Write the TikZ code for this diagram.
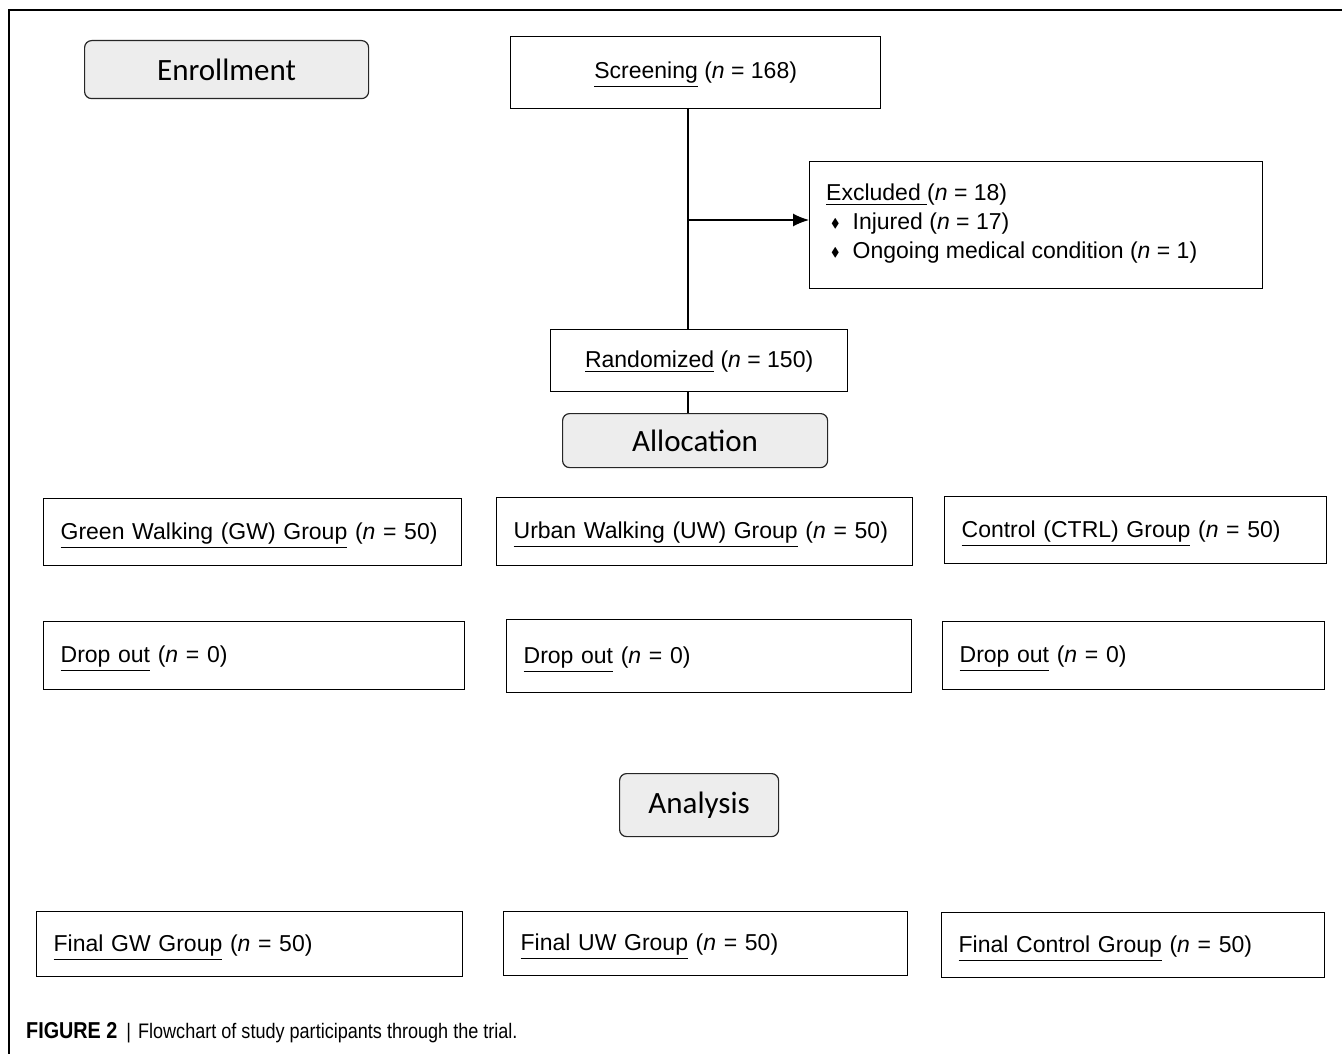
\documentclass[tikz,border=0pt]{standalone}
\usepackage{amssymb}
\usepackage{fontspec}
\setmainfont{Liberation Sans}
\newfontfamily\labelfont{Carlito}
\newfontfamily\capfont[FakeStretch=0.86]{Liberation Sans}
\usetikzlibrary{arrows.meta}
\newcommand{\nn}{\textit{n}}
\newcommand{\bul}{\hspace{5pt}\raisebox{2pt}{\scalebox{0.55}{$\blacklozenge$}}\hspace{13pt}}
\begin{document}
\begin{tikzpicture}[x=1pt,y=-1pt,
  box/.style={draw=black, line width=1.3pt, fill=white, inner sep=0pt, font=\fontsize{23}{27}\selectfont, text height=17pt, text depth=3pt},
  rowbox/.style={box, anchor=north west, align=left, inner xsep=17pt},
  stage/.style={draw=black!85, line width=1.2pt, rounded corners=7pt, fill=black!7, inner sep=0pt, anchor=north west, font=\labelfont\fontsize{31}{34}\selectfont},
  conn/.style={line width=1.3pt},
  arr/.style={conn, -{Latex[length=16pt,width=13pt]}}]
\useasboundingbox (0,0) rectangle (1342,1054);
\fill[white] (0,0) rectangle (1342,1054);
% frame
\draw[line width=1.2pt] (9,1054) -- (9,10) -- (1342,10);
% stage labels
\node[stage, minimum width=284, minimum height=58] (enr) at (84,40) {Enrollment};
\node[stage, minimum width=265, minimum height=54] (alloc) at (562,413) {Allocation};
\node[stage, minimum width=159, minimum height=63] (ana) at (619,773) {Analysis};
% top boxes
\node[box, anchor=north west, minimum width=370, minimum height=72, text depth=6pt] (scr) at (510,36) {\underline{Screening} (\nn{} = 168)};
\node[box, anchor=north west, minimum width=297, minimum height=62] (rnd) at (550,329) {\underline{Randomized} (\nn{} = 150)};
\node[draw=black, line width=1.3pt, fill=white, inner sep=0pt, anchor=north west, minimum width=453, minimum height=127] (exc) at (809,161) {};
\node[anchor=north west, inner sep=0pt, align=left, font=\fontsize{23}{29}\selectfont] (exctext) at (826,184)
  {\underline{Excluded\ }(\nn{} = 18)\\
   \bul Injured (\nn{} = 17)\\
   \bul Ongoing medical condition (\nn{} = 1)};
% groups
\node[rowbox, text width=384, minimum height=67] (gw) at (43,498) {\underline{Green Walking (GW) Group} (\nn{} = 50)};
\node[rowbox, text width=382, minimum height=68] (uw) at (496,497) {\underline{Urban Walking (UW) Group} (\nn{} = 50)};
\node[rowbox, text width=348, minimum height=67] (ctrl) at (944,496) {\underline{Control (CTRL) Group} (\nn{} = 50)};
% drop outs
\node[rowbox, text width=387, minimum height=68] (d1) at (43,621) {\underline{Drop out} (\nn{} = 0)};
\node[rowbox, text width=371, minimum height=73] (d2) at (506,619) {\underline{Drop out} (\nn{} = 0)};
\node[rowbox, text width=348, minimum height=68] (d3) at (942,621) {\underline{Drop out} (\nn{} = 0)};
% finals
\node[rowbox, text width=392, minimum height=65] (f1) at (36,911) {\underline{Final GW Group} (\nn{} = 50)};
\node[rowbox, text width=370, minimum height=64] (f2) at (503,911) {\underline{Final UW Group} (\nn{} = 50)};
\node[rowbox, text width=349, minimum height=65] (f3) at (941,912) {\underline{Final Control Group} (\nn{} = 50)};
% connectors
\coordinate (top) at (688,108);
\coordinate (mid) at (688,220);
\draw[conn] (top) -- (rnd.north -| top);
\draw[arr] (mid) -- (exc.west |- mid);
\draw[conn] (rnd.south -| top) -- (alloc.north -| top);
% caption
\node[anchor=west, inner sep=0pt, font=\capfont\fontsize{21}{23}\selectfont] (cap) at (26,1033)
  {{\fontsize{23}{23}\selectfont\textbf{FIGURE 2}}\hspace{9pt}|\hspace{7pt}Flowchart of study participants through the trial.};
\end{tikzpicture}
\end{document}
